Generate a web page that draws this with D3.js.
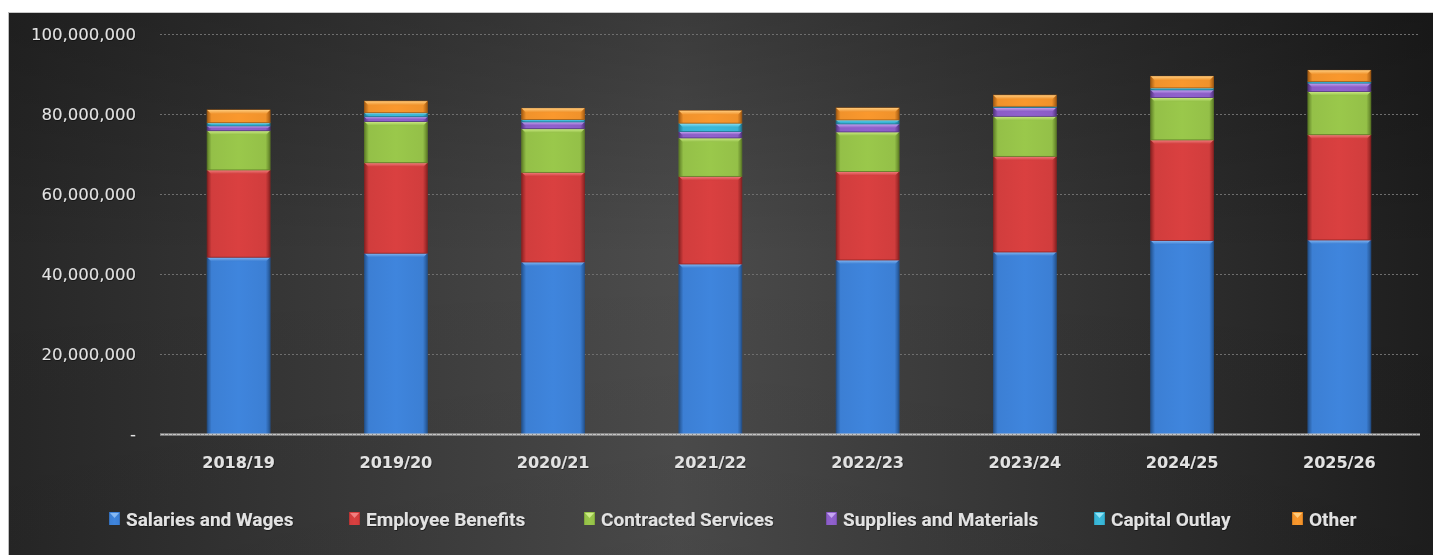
<!DOCTYPE html>
<html>
<head>
<meta charset="utf-8">
<script src="https://cdn.jsdelivr.net/npm/d3@7"></script>
<style>
  html, body { margin: 0; padding: 0; background: #ffffff; }
  svg { display: block; }
</style>
</head>
<body>
<svg id="chart" width="1433" height="555"></svg>
<script>
// Fiscal years
const categories = ["2018/19", "2019/20", "2020/21", "2021/22", "2022/23", "2023/24", "2024/25", "2025/26"];

// Spending by category (dollars)
const salariesAndWages     = [44300000, 45300000, 43100000, 42600000, 43600000, 45600000, 48500000, 48600000];
const employeeBenefits     = [21800000, 22600000, 22400000, 21900000, 22100000, 23900000, 25100000, 26300000];
const contractedServices   = [ 9800000, 10300000, 10900000,  9600000,  9900000, 10000000, 10600000, 10800000];
const suppliesAndMaterials = [ 1200000,  1200000,  1700000,  1600000,  2000000,  2200000,  1900000,  2100000];
const capitalOutlay        = [  800000,  1000000,   600000,  2100000,  1000000,   300000,   500000,   400000];
const other                = [ 3200000,  2900000,  2800000,  3100000,  3000000,  2800000,  2900000,  2800000];

const seriesNames = ["Salaries and Wages", "Employee Benefits", "Contracted Services", "Supplies and Materials", "Capital Outlay", "Other"];
const seriesValues = [salariesAndWages, employeeBenefits, contractedServices, suppliesAndMaterials, capitalOutlay, other];

// Axis ticks
const yTicks = [0, 20000000, 40000000, 60000000, 80000000, 100000000];

// Palette: base, highlight, edge
const palette = [
  { base: "#3c7fd4", light: "#86b9f3", dark: "#24538f" },
  { base: "#d13d3d", light: "#f27f7f", dark: "#8c2222" },
  { base: "#94c048", light: "#cdec86", dark: "#5f7f27" },
  { base: "#8b5dc6", light: "#c6a6f2", dark: "#553682" },
  { base: "#38b3d3", light: "#92e4f7", dark: "#1f7690" },
  { base: "#f0922b", light: "#ffcb7c", dark: "#a65c12" }
];

const svg = d3.select("#chart");
const W = 1433, H = 555;
const frame = { x: 8, y: 12, w: W - 8, h: H - 12 };
const plot = { left: 160, right: 1418, top: 34.3, bottom: 434.5 };

const defs = svg.append("defs");

// Background: dark with a lighter middle
const bgH = defs.append("linearGradient").attr("id", "bgH")
  .attr("x1", "0").attr("y1", "0").attr("x2", "1").attr("y2", "0");
bgH.append("stop").attr("offset", "0").attr("stop-color", "#272727");
bgH.append("stop").attr("offset", "0.47").attr("stop-color", "#4c4c4c");
bgH.append("stop").attr("offset", "1").attr("stop-color", "#1e1e1e");

const bgV = defs.append("linearGradient").attr("id", "bgV")
  .attr("x1", "0").attr("y1", "0").attr("x2", "0").attr("y2", "1");
bgV.append("stop").attr("offset", "0").attr("stop-color", "#000").attr("stop-opacity", 0.22);
bgV.append("stop").attr("offset", "0.45").attr("stop-color", "#000").attr("stop-opacity", 0.0);
bgV.append("stop").attr("offset", "1").attr("stop-color", "#000").attr("stop-opacity", 0.05);

svg.append("rect").attr("x", frame.x).attr("y", frame.y).attr("width", frame.w).attr("height", frame.h)
  .attr("fill", "url(#bgH)");
svg.append("rect").attr("x", frame.x).attr("y", frame.y).attr("width", frame.w).attr("height", frame.h)
  .attr("fill", "url(#bgV)");
svg.append("line").attr("x1", frame.x).attr("x2", W).attr("y1", frame.y + 0.5).attr("y2", frame.y + 0.5)
  .attr("stroke", "#c8c8c8").attr("stroke-width", 1);
svg.append("line").attr("x1", frame.x + 0.5).attr("x2", frame.x + 0.5).attr("y1", frame.y).attr("y2", H)
  .attr("stroke", "#bdbdbd").attr("stroke-width", 1);

// Soft shadow behind text
const shadow = defs.append("filter").attr("id", "txtShadow")
  .attr("x", "-5%").attr("y", "-20%").attr("width", "110%").attr("height", "140%");
shadow.append("feDropShadow").attr("dx", 0.6).attr("dy", 0.8).attr("stdDeviation", 0.6)
  .attr("flood-color", "#000").attr("flood-opacity", 0.6);

// Per-series gradients
palette.forEach((c, i) => {
  const gh = defs.append("linearGradient").attr("id", "segH" + i)
    .attr("x1", "0").attr("y1", "0").attr("x2", "1").attr("y2", "0");
  gh.append("stop").attr("offset", "0").attr("stop-color", c.dark);
  gh.append("stop").attr("offset", "0.07").attr("stop-color", c.base);
  gh.append("stop").attr("offset", "0.5").attr("stop-color", d3.color(c.base).brighter(0.12));
  gh.append("stop").attr("offset", "0.93").attr("stop-color", c.base);
  gh.append("stop").attr("offset", "1").attr("stop-color", c.dark);

  const gv = defs.append("linearGradient").attr("id", "segTop" + i)
    .attr("x1", "0").attr("y1", "0").attr("x2", "0").attr("y2", "1");
  gv.append("stop").attr("offset", "0").attr("stop-color", c.light);
  gv.append("stop").attr("offset", "1").attr("stop-color", c.base);
});

// Scales
const x = d3.scaleBand().domain(categories).range([plot.left, plot.right])
  .paddingInner(0.6).paddingOuter(0.3);
const y = d3.scaleLinear().domain([0, 100000000]).range([plot.bottom, plot.top]);

// Gridlines
svg.append("g").selectAll("line").data(yTicks.filter(t => t > 0)).join("line")
  .attr("x1", plot.left).attr("x2", plot.right)
  .attr("y1", d => Math.round(y(d)) + 0.5).attr("y2", d => Math.round(y(d)) + 0.5)
  .attr("stroke", "#6e6e6e").attr("stroke-width", 1).attr("stroke-dasharray", "2,2");

// Y axis labels
const fmt = d3.format(",");
svg.append("g").selectAll("text").data(yTicks).join("text")
  .attr("x", 136).attr("y", d => y(d)).attr("dy", "0.36em")
  .attr("text-anchor", "end")
  .attr("font-family", "'DejaVu Sans', Verdana, sans-serif")
  .attr("font-size", 16.5)
  .attr("fill", "#e2e2e2")
  .attr("filter", "url(#txtShadow)")
  .text(d => d === 0 ? "-" : fmt(d));

// Stack
const table = categories.map((c, j) => {
  const row = { year: c };
  seriesNames.forEach((n, i) => { row[n] = seriesValues[i][j]; });
  return row;
});
const stacked = d3.stack().keys(seriesNames)(table);

const bw = x.bandwidth();
const layers = svg.append("g").selectAll("g").data(stacked).join("g");

layers.each(function (layer, i) {
  const g = d3.select(this);
  const segs = g.selectAll("g").data(layer).join("g");
  segs.each(function (d) {
    const s = d3.select(this);
    const x0 = x(d.data.year), x1 = x0 + bw;
    const yTop = y(d[1]), yBot = y(d[0]);
    const h = yBot - yTop;
    s.append("rect")
      .attr("x", x0).attr("y", yTop).attr("width", bw).attr("height", h)
      .attr("fill", "url(#segH" + i + ")")
      .attr("stroke", palette[i].dark).attr("stroke-width", 0.8);
    const b = Math.min(4, h / 2);
    s.append("path")
      .attr("d", `M${x0},${yTop}L${x1},${yTop}L${x1 - b},${yTop + b}L${x0 + b},${yTop + b}Z`)
      .attr("fill", "url(#segTop" + i + ")");
  });
});

// Baseline
svg.append("line")
  .attr("x1", plot.left).attr("x2", plot.right + 2)
  .attr("y1", plot.bottom).attr("y2", plot.bottom)
  .attr("stroke", "#c4c4c4").attr("stroke-width", 2);
svg.append("line")
  .attr("x1", plot.left).attr("x2", plot.right + 2)
  .attr("y1", plot.bottom).attr("y2", plot.bottom)
  .attr("stroke", "#8a8a8a").attr("stroke-width", 1).attr("stroke-dasharray", "1,3");

// X axis labels
svg.append("g").selectAll("text").data(categories).join("text")
  .attr("x", d => x(d) + bw / 2).attr("y", 468)
  .attr("text-anchor", "middle")
  .attr("font-family", "'DejaVu Sans', Verdana, sans-serif")
  .attr("font-weight", "bold")
  .attr("font-size", 16)
  .attr("fill", "#e2e2e2")
  .attr("filter", "url(#txtShadow)")
  .text(d => d);

// Legend
const legendX = [109, 349, 584, 826, 1094, 1292];
const legend = svg.append("g").selectAll("g").data(seriesNames).join("g")
  .attr("transform", (d, i) => `translate(${legendX[i]},0)`);
legend.append("rect")
  .attr("x", 0).attr("y", 512).attr("width", 11).attr("height", 13)
  .attr("fill", (d, i) => "url(#segH" + i + ")");
legend.append("path")
  .attr("d", "M1,513L10,513L5.5,518Z")
  .attr("fill", (d, i) => palette[i].light);
legend.append("text")
  .attr("x", 17).attr("y", 526)
  .attr("font-family", "Roboto, sans-serif")
  .attr("font-weight", 700)
  .attr("font-size", 19)
  .attr("fill", "#e2e2e2")
  .attr("filter", "url(#txtShadow)")
  .text(d => d);
</script>
</body>
</html>
